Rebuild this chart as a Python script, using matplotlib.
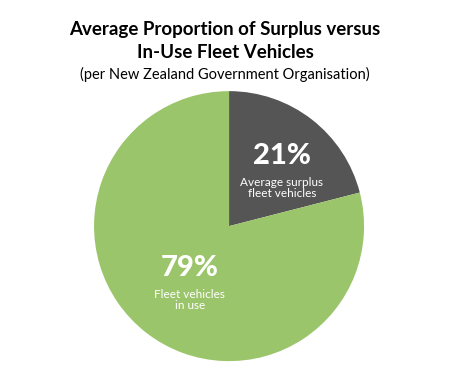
import matplotlib.pyplot as plt

labels = ["Average surplus\nfleet vehicles", "Fleet vehicles\nin use"]
shares = [21, 79]
colors = ["#555555", "#9BC56A"]

plt.rcParams["font.family"] = ["Lato", "DejaVu Sans"]

fig = plt.figure(figsize=(4.5, 3.7), dpi=100)
ax = fig.add_axes([0.209, 0.024, 0.6, 0.7297])
ax.pie(shares, colors=colors, startangle=90, counterclock=False,
       wedgeprops={"linewidth": 0})
ax.set_xlim(-1, 1)
ax.set_ylim(-1, 1)
ax.set_aspect("equal")

# label positions in data coords (radius 1)
ax.text(0.39, 0.52, f"{shares[0]}%", color="white", fontsize=21,
        fontweight="black", ha="center", va="center")
ax.text(0.39, 0.28, labels[0], color="white", fontsize=8.5,
        ha="center", va="center", linespacing=1.0)
ax.text(-0.29, -0.31, f"{shares[1]}%", color="white", fontsize=21,
        fontweight="black", ha="center", va="center")
ax.text(-0.29, -0.55, labels[1], color="white", fontsize=8.5,
        ha="center", va="center", linespacing=1.0)

fig.text(0.5, 0.92, "Average Proportion of Surplus versus", fontsize=13.5,
         fontweight="bold", ha="center", va="center")
fig.text(0.5, 0.858, "In-Use Fleet Vehicles", fontsize=13.5,
         fontweight="bold", ha="center", va="center")
fig.text(0.5, 0.8, "(per New Zealand Government Organisation)", fontsize=10.5,
         ha="center", va="center")

fig.savefig("out.png", dpi=100)
